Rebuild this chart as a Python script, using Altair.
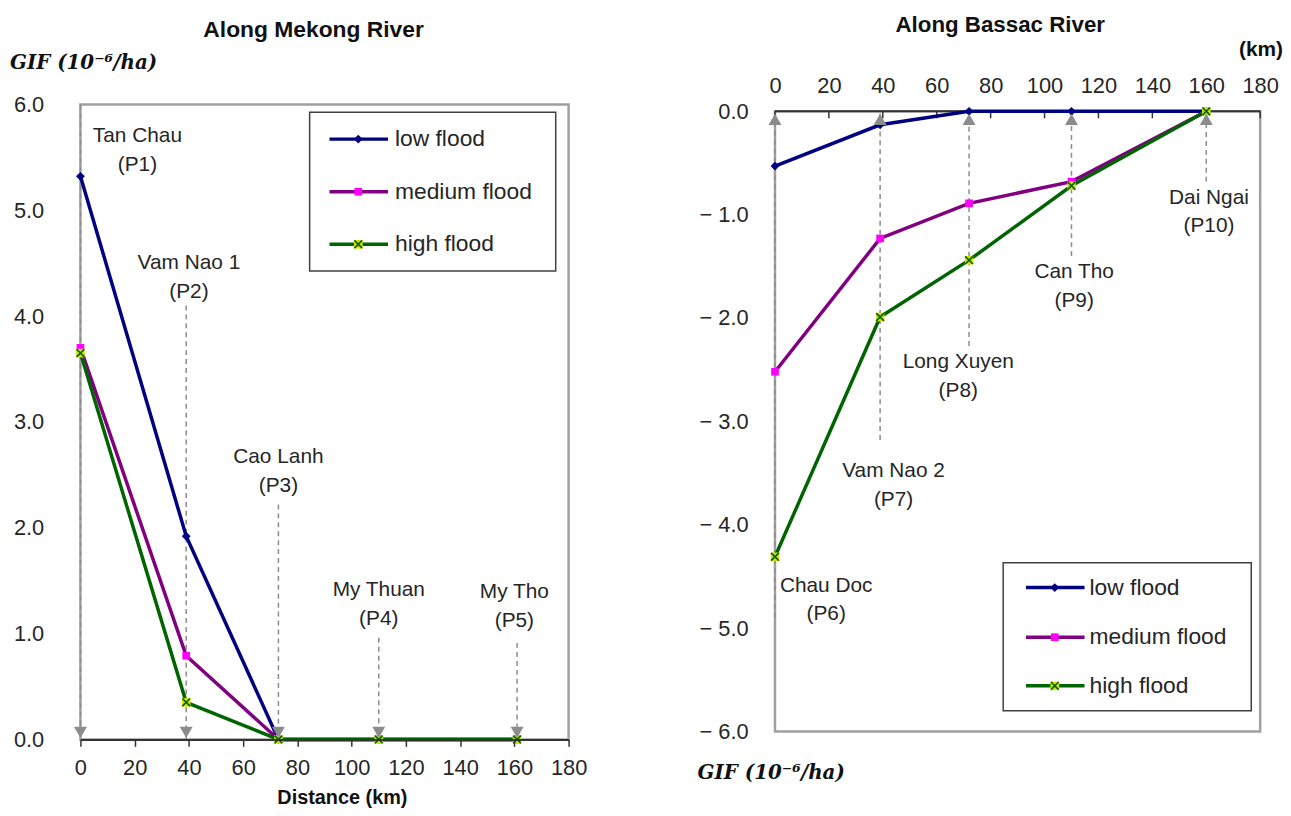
import altair as alt
import pandas as pd

# ---------------- data ----------------
SERIES = ["low flood", "medium flood", "high flood"]
LINE_COLORS = ["#000080", "#800080", "#006400"]

MEKONG_KM = [0, 39, 73, 110, 161]
MEKONG_LOW = [5.32, 1.92, 0.0, 0.0, 0.0]
MEKONG_MEDIUM = [3.70, 0.79, 0.0, 0.0, 0.0]
MEKONG_HIGH = [3.65, 0.35, 0.0, 0.0, 0.0]
MEKONG_NAMES = ["Tan Chau", "Vam Nao 1", "Cao Lanh", "My Thuan", "My Tho"]
MEKONG_CODES = ["(P1)", "(P2)", "(P3)", "(P4)", "(P5)"]
MEKONG_LABEL_X = [21, 40, 73, 110, 160]
MEKONG_LABEL_Y = [5.70, 4.50, 2.67, 1.41, 1.39]
MEKONG_LEADER_END = [6.0, 4.10, 2.22, 0.96, 0.91]

BASSAC_KM = [0, 39, 72, 110, 160]
BASSAC_LOW = [-0.53, -0.13, 0.0, 0.0, 0.0]
BASSAC_MEDIUM = [-2.52, -1.23, -0.89, -0.68, 0.0]
BASSAC_HIGH = [-4.31, -1.99, -1.44, -0.72, 0.0]
BASSAC_NAMES = ["Chau Doc", "Vam Nao 2", "Long Xuyen", "Can Tho", "Dai Ngai"]
BASSAC_CODES = ["(P6)", "(P7)", "(P8)", "(P9)", "(P10)"]
BASSAC_LABEL_X = [19, 44, 68, 111, 161]
BASSAC_LABEL_Y = [-4.59, -3.48, -2.43, -1.555, -0.835]
BASSAC_LEADER_END = [-4.9, -3.18, -2.27, -1.40, -0.68]

X_TICKS = list(range(0, 181, 20))
MEKONG_Y_TICKS = [0, 1, 2, 3, 4, 5, 6]
BASSAC_Y_TICKS = [0, -1, -2, -3, -4, -5, -6]

FONT = "Liberation Sans"
TXT = "#262626"
GRAY = "#A0A0A0"
ARROW = "#8C8C8C"

LEFT_W, LEFT_H = 492, 640
RIGHT_W, RIGHT_H = 489, 640


def series_frame(km, low, med, high):
    rows = []
    for name, vals in zip(SERIES, [low, med, high]):
        for k, v in zip(km, vals):
            rows.append({"km": k, "gif": v, "series": name})
    return pd.DataFrame(rows)


def station_frame(km, names, codes, lx, ly, lend):
    return pd.DataFrame({"km": km, "name": names, "code": codes,
                         "lx": lx, "ly": ly, "lend": lend})


color_scale = alt.Scale(domain=SERIES, range=LINE_COLORS)


def data_layers(df, xs, ys):
    line = alt.Chart(df).mark_line(strokeWidth=3.5).encode(
        x=alt.X("km:Q", scale=xs),
        y=alt.Y("gif:Q", scale=ys),
        color=alt.Color("series:N", scale=color_scale, legend=None),
    )
    low = alt.Chart(df).transform_filter(alt.datum.series == SERIES[0]).mark_point(
        shape="diamond", filled=True, size=80, color=LINE_COLORS[0], opacity=1
    ).encode(x=alt.X("km:Q", scale=xs), y=alt.Y("gif:Q", scale=ys))
    med = alt.Chart(df).transform_filter(alt.datum.series == SERIES[1]).mark_point(
        shape="square", filled=True, size=60, color="#FF00FF", opacity=1
    ).encode(x=alt.X("km:Q", scale=xs), y=alt.Y("gif:Q", scale=ys))
    high = alt.Chart(df).transform_filter(alt.datum.series == SERIES[2]).mark_point(
        shape="square", filled=True, size=75, color="#D8E400", opacity=1
    ).encode(x=alt.X("km:Q", scale=xs), y=alt.Y("gif:Q", scale=ys))
    highx = alt.Chart(df).transform_filter(alt.datum.series == SERIES[2]).mark_point(
        shape="M-1,-1L1,1M1,-1L-1,1", filled=False, size=60, color=LINE_COLORS[2],
        strokeWidth=1.7, opacity=1
    ).encode(x=alt.X("km:Q", scale=xs), y=alt.Y("gif:Q", scale=ys))
    return [line, low, med, high, highx]


def legend_layers(x0, x1, y0, y1, lx0, lx1, mx, tx, ys):
    one = pd.DataFrame({"a": [0]})
    box = alt.Chart(one).mark_rect(fill="white", stroke="#404040", strokeWidth=1.5).encode(
        x=alt.value(x0), x2=alt.value(x1), y=alt.value(y0), y2=alt.value(y1))
    layers = [box]
    for i, name in enumerate(SERIES):
        d = pd.DataFrame({"series": [name]})
        layers.append(alt.Chart(d).mark_rule(strokeWidth=3.5, color=LINE_COLORS[i]).encode(
            x=alt.value(lx0), x2=alt.value(lx1), y=alt.value(ys[i])))
        if i == 0:
            layers.append(alt.Chart(d).mark_point(shape="diamond", filled=True, size=80,
                                                  color=LINE_COLORS[0], opacity=1).encode(
                x=alt.value(mx), y=alt.value(ys[i])))
        elif i == 1:
            layers.append(alt.Chart(d).mark_point(shape="square", filled=True, size=60,
                                                  color="#FF00FF", opacity=1).encode(
                x=alt.value(mx), y=alt.value(ys[i])))
        else:
            layers.append(alt.Chart(d).mark_point(shape="square", filled=True, size=75,
                                                  color="#D8E400", opacity=1).encode(
                x=alt.value(mx), y=alt.value(ys[i])))
            layers.append(alt.Chart(d).mark_point(shape="M-1,-1L1,1M1,-1L-1,1", filled=False,
                                                  size=60, color=LINE_COLORS[2],
                                                  strokeWidth=1.7, opacity=1).encode(
                x=alt.value(mx), y=alt.value(ys[i])))
        layers.append(alt.Chart(d).mark_text(font=FONT, fontSize=23, color=TXT,
                                             align="left", baseline="middle").encode(
            x=alt.value(tx), y=alt.value(ys[i]), text="series:N"))
    return layers


def deco_text(txt, x, y, size, weight="normal", style="normal", align="center", font=FONT):
    d = pd.DataFrame({"t": [txt]})
    return alt.Chart(d).mark_text(font=font, fontSize=size, fontWeight=weight,
                                  fontStyle=style, color="#111111" if weight == "bold" else TXT,
                                  align=align, baseline="middle").encode(
        x=alt.value(x), y=alt.value(y), text="t:N")


# ---------------- left panel: Mekong ----------------
xs_l = alt.Scale(domain=[0, 180], nice=False, zero=False)
ys_l = alt.Scale(domain=[0, 6], nice=False, zero=False)

mek = series_frame(MEKONG_KM, MEKONG_LOW, MEKONG_MEDIUM, MEKONG_HIGH)
mst = station_frame(MEKONG_KM, MEKONG_NAMES, MEKONG_CODES, MEKONG_LABEL_X,
                    MEKONG_LABEL_Y, MEKONG_LEADER_END)
frame_l = pd.DataFrame({"x0": [0], "x1": [180], "y0": [0], "y1": [6]})

bounds_l = alt.Chart(pd.DataFrame({"a": [0]})).mark_rule(color="white", strokeWidth=1).encode(
    x=alt.value(-72.5), x2=alt.value(-71.5), y=alt.value(-93.5))

axis_frame_l = alt.Chart(frame_l).mark_rect(fillOpacity=0, stroke=GRAY, strokeWidth=2.5).encode(
    x=alt.X("x0:Q", scale=xs_l,
            axis=alt.Axis(values=X_TICKS, title=None, grid=False, domainColor="#333333",
                          domainWidth=2, tickColor="#333333", tickWidth=1.5, tickSize=7,
                          labelFont=FONT, labelFontSize=22, labelColor=TXT, labelPadding=11,
                          labelOverlap=False, labelFlush=False, zindex=1)),
    x2="x1:Q",
    y=alt.Y("y0:Q", scale=ys_l,
            axis=alt.Axis(values=MEKONG_Y_TICKS, format=".1f", title=None, grid=False,
                          domain=False, ticks=False, labelFont=FONT, labelFontSize=22,
                          labelColor=TXT, labelPadding=37, labelOverlap=False,
                          labelFlush=False)),
    y2="y1:Q",
)

leader_l = alt.Chart(mst).mark_rule(color=ARROW, strokeWidth=1.5, strokeDash=[5, 4]).encode(
    x=alt.X("km:Q", scale=xs_l), y=alt.Y("lend:Q", scale=ys_l), y2=alt.datum(0))
arrow_l = alt.Chart(mst).mark_point(shape="triangle-down", filled=True, color=ARROW,
                                    size=170, opacity=1, yOffset=-7).encode(
    x=alt.X("km:Q", scale=xs_l), y=alt.datum(0))
name_l = alt.Chart(mst).mark_text(font=FONT, fontSize=21, color=TXT).encode(
    x=alt.X("lx:Q", scale=xs_l), y=alt.Y("ly:Q", scale=ys_l), text="name:N")
code_l = alt.Chart(mst).mark_text(font=FONT, fontSize=21, color=TXT, dy=29).encode(
    x=alt.X("lx:Q", scale=xs_l), y=alt.Y("ly:Q", scale=ys_l), text="code:N")

left = alt.layer(
    bounds_l,
    axis_frame_l,
    leader_l,
    *data_layers(mek, xs_l, ys_l),
    arrow_l,
    name_l,
    code_l,
    *legend_layers(231, 479, 8, 168, 251, 310, 280, 317, [35, 88, 141]),
    deco_text("Along Mekong River", 235, -75, 23, weight="bold"),
    deco_text("GIF (10⁻⁶/ha)", -71, -42, 20, weight="bold", style="italic",
              align="left", font="DejaVu Serif"),
    deco_text("Distance (km)", 264, 699, 20, weight="bold"),
).properties(width=LEFT_W, height=LEFT_H)

# ---------------- right panel: Bassac ----------------
PX_PER_UNIT = 625 / 6.0
xs_r = alt.Scale(domain=[0, 180], nice=False, zero=False)
ys_r = alt.Scale(domain=[-6 - 8 / PX_PER_UNIT, 7 / PX_PER_UNIT], nice=False, zero=False)

bas = series_frame(BASSAC_KM, BASSAC_LOW, BASSAC_MEDIUM, BASSAC_HIGH)
bst = station_frame(BASSAC_KM, BASSAC_NAMES, BASSAC_CODES, BASSAC_LABEL_X,
                    BASSAC_LABEL_Y, BASSAC_LEADER_END)
frame_r = pd.DataFrame({"x0": [0], "x1": [180], "y0": [-6], "y1": [0]})
ticks_r = pd.DataFrame({"km": X_TICKS})

axis_frame_r = alt.Chart(frame_r).mark_rect(fillOpacity=0, stroke=GRAY, strokeWidth=2.5).encode(
    x=alt.X("x0:Q", scale=xs_r,
            axis=alt.Axis(values=X_TICKS, orient="top", title=None, grid=False, domain=False,
                          ticks=False, labelFont=FONT, labelFontSize=22, labelColor=TXT,
                          labelPadding=7, labelOverlap=False, labelFlush=False)),
    x2="x1:Q",
    y=alt.Y("y0:Q", scale=ys_r,
            axis=alt.Axis(values=BASSAC_Y_TICKS, title=None, grid=False, domain=False,
                          ticks=False, labelFont=FONT, labelFontSize=22, labelColor=TXT,
                          labelPadding=27, labelOverlap=False, labelFlush=False,
                          labelExpr="datum.value < 0 ? '\u2212 ' + format(-datum.value, '.1f') : format(datum.value, '.1f')")),
    y2="y1:Q",
)
zero_line_r = alt.Chart(frame_r).mark_rule(color="#333333", strokeWidth=2).encode(
    x=alt.X("x0:Q", scale=xs_r), x2="x1:Q", y=alt.Y("y1:Q", scale=ys_r))
tick_marks_r = alt.Chart(ticks_r).mark_rule(color="#333333", strokeWidth=1.5).encode(
    x=alt.X("km:Q", scale=xs_r), y=alt.datum(0), y2=alt.datum(-7 / PX_PER_UNIT))

leader_r = alt.Chart(bst).mark_rule(color=ARROW, strokeWidth=1.5, strokeDash=[5, 4]).encode(
    x=alt.X("km:Q", scale=xs_r), y=alt.Y("lend:Q", scale=ys_r), y2=alt.datum(0))
arrow_r = alt.Chart(bst).mark_point(shape="triangle-up", filled=True, color=ARROW,
                                    size=170, opacity=1, yOffset=8).encode(
    x=alt.X("km:Q", scale=xs_r), y=alt.datum(0))
name_r = alt.Chart(bst).mark_text(font=FONT, fontSize=21, color=TXT).encode(
    x=alt.X("lx:Q", scale=xs_r), y=alt.Y("ly:Q", scale=ys_r), text="name:N")
code_r = alt.Chart(bst).mark_text(font=FONT, fontSize=21, color=TXT, dy=29).encode(
    x=alt.X("lx:Q", scale=xs_r), y=alt.Y("ly:Q", scale=ys_r), text="code:N")

right = alt.layer(
    axis_frame_r,
    leader_r,
    zero_line_r,
    tick_marks_r,
    *data_layers(bas, xs_r, ys_r),
    arrow_r,
    name_r,
    code_r,
    *legend_layers(230, 480, 462, 611, 253, 312, 282, 317, [487, 537, 586]),
    deco_text("Along Bassac River", 227, -80, 22.5, weight="bold"),
    deco_text("(km)", 512, -55, 21, weight="bold", align="right"),
    deco_text("GIF (10⁻⁶/ha)", -78, 674, 20, weight="bold", style="italic",
              align="left", font="DejaVu Serif"),
).properties(width=RIGHT_W, height=RIGHT_H)

chart = alt.hconcat(left, right, spacing=208, bounds="flush").properties(
    padding=0, background="white"
).configure_view(stroke=None)

chart.save("out.html", embed_options={"renderer": "svg", "actions": False})
